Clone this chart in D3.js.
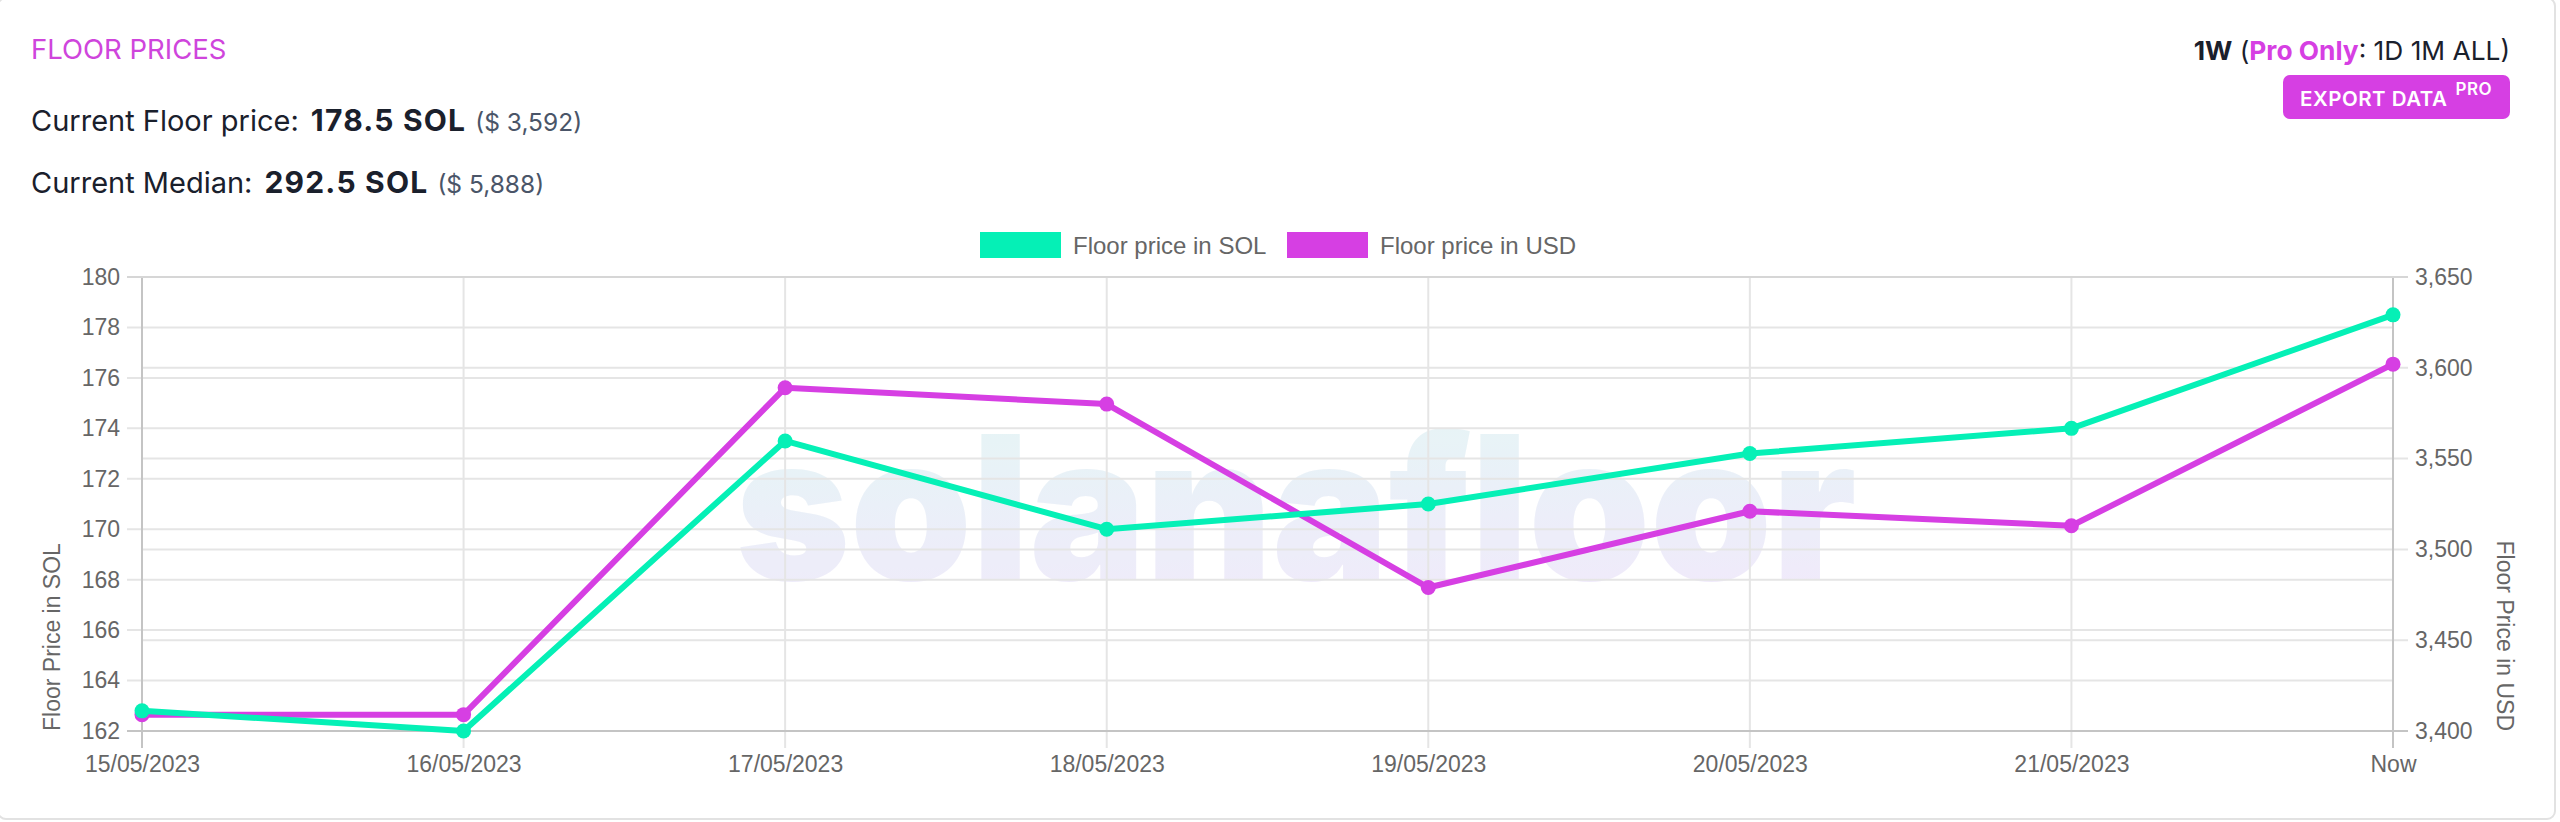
<!DOCTYPE html>
<html>
<head>
<meta charset="utf-8">
<script src="https://cdn.jsdelivr.net/npm/d3@7"></script>
<style>
  html, body { margin: 0; padding: 0; background: #ffffff; }
  svg { display: block; }
</style>
</head>
<body>
<svg id="chart" width="2560" height="822"></svg>
<script>
// ---------- data ----------
const categories = ["15/05/2023", "16/05/2023", "17/05/2023", "18/05/2023", "19/05/2023", "20/05/2023", "21/05/2023", "Now"];
const floorSol = [162.8, 162.0, 173.5, 170.0, 171.0, 173.0, 174.0, 178.5];
const floorUsd = [3409, 3409, 3589, 3580, 3479, 3521, 3513, 3602];
const solTicks = [162, 164, 166, 168, 170, 172, 174, 176, 178, 180];
const usdTicks = [3400, 3450, 3500, 3550, 3600, 3650];
const seriesNames = ["Floor price in SOL", "Floor price in USD"];

// ---------- styles ----------
const GREEN = "#05f0b6";
const MAGENTA = "#d63fe3";
const DARK = "#1a202c";
const TICK = "#666666";
const GRID = "#e5e5e5";
const BORDER = "#c4c4c4";
const chartFont = "'Liberation Sans', Arial, Helvetica, sans-serif";
const uiFont = "Inter, 'Noto Sans', sans-serif";

const svg = d3.select("#chart");

// card border
svg.append("rect").attr("x", -2).attr("y", -2).attr("width", 2557).attr("height", 821)
  .attr("rx", 8).attr("fill", "#fff").attr("stroke", "#e2e2e2").attr("stroke-width", 2);

// ---------- header ----------
svg.append("text").attr("x", 31).attr("y", 59)
  .attr("font-family", uiFont).attr("font-size", 27.5).attr("fill", "#cf45dc")
  .text("FLOOR PRICES");

function statLine(y, label, value, usd) {
  const t = svg.append("text").attr("x", 31).attr("y", y).attr("font-family", uiFont).attr("fill", DARK);
  t.append("tspan").attr("font-size", 29).text(label);
  t.append("tspan").attr("dx", 12).attr("font-size", 30).attr("font-weight", 700).attr("letter-spacing", 1.2).text(value);
  t.append("tspan").attr("dx", 9).attr("font-size", 24.5).attr("fill", "#4a5568").text(usd);
}
statLine(131, "Current Floor price:", "178.5 SOL", "($ 3,592)");
statLine(193, "Current Median:", "292.5 SOL", "($ 5,888)");

const rt = svg.append("text").attr("x", 2510).attr("y", 60).attr("text-anchor", "end")
  .attr("font-family", uiFont).attr("font-size", 26.3).attr("fill", DARK);
rt.append("tspan").attr("font-weight", 700).text("1W");
rt.append("tspan").text(" (");
rt.append("tspan").attr("font-weight", 700).attr("fill", MAGENTA).text("Pro Only");
rt.append("tspan").text(": 1D 1M ALL)");

svg.append("rect").attr("x", 2283).attr("y", 75).attr("width", 227).attr("height", 44)
  .attr("rx", 7).attr("fill", MAGENTA);
const bt = svg.append("text").attr("x", 2300).attr("y", 106)
  .attr("font-family", uiFont).attr("font-size", 20.5).attr("font-weight", 600).attr("fill", "#fff")
  .attr("letter-spacing", 0.5);
bt.append("tspan").text("EXPORT DATA");
bt.append("tspan").attr("font-size", 17).attr("dy", -11).attr("dx", 8).text("PRO");

// ---------- scales ----------
const plotL = 142, plotR = 2393, plotT = 277, plotB = 731;
const x = d3.scalePoint().domain(categories).range([plotL, plotR]);
const yL = d3.scaleLinear().domain([162, 180]).range([plotB, plotT]);
const yR = d3.scaleLinear().domain([3400, 3650]).range([plotB, plotT]);

// ---------- watermark ----------
const defs = svg.append("defs");
const grad = defs.append("linearGradient").attr("id", "wm").attr("x1", 0).attr("y1", 0).attr("x2", 0.15).attr("y2", 1);
grad.append("stop").attr("offset", "0%").attr("stop-color", "#dff6f3");
grad.append("stop").attr("offset", "100%").attr("stop-color", "#efe6fb");
svg.append("text").attr("x", 1296).attr("y", 580).attr("text-anchor", "middle")
  .attr("font-family", "Inter, Lato, sans-serif").attr("font-weight", 900).attr("font-size", 200)
  .attr("textLength", 1121).attr("lengthAdjust", "spacingAndGlyphs")
  .attr("fill", "url(#wm)").attr("opacity", 0.85)
  .text("solanafloor");

// ---------- grid ----------
const grid = svg.append("g");
grid.selectAll("line.gl").data(solTicks).join("line")
  .attr("x1", plotL - 15).attr("x2", plotR)
  .attr("y1", d => yL(d)).attr("y2", d => yL(d))
  .attr("stroke", GRID).attr("stroke-width", 2);
grid.selectAll("line.gr").data(usdTicks).join("line")
  .attr("x1", plotL).attr("x2", plotR + 15)
  .attr("y1", d => yR(d)).attr("y2", d => yR(d))
  .attr("stroke", GRID).attr("stroke-width", 2);
grid.selectAll("line.gx").data(categories).join("line")
  .attr("x1", d => x(d)).attr("x2", d => x(d))
  .attr("y1", plotT).attr("y2", plotB + 17)
  .attr("stroke", GRID).attr("stroke-width", 2);
// borders
grid.append("line").attr("x1", plotL).attr("x2", plotL).attr("y1", plotT).attr("y2", plotB + 17).attr("stroke", BORDER).attr("stroke-width", 2);
grid.append("line").attr("x1", plotR).attr("x2", plotR).attr("y1", plotT).attr("y2", plotB + 17).attr("stroke", BORDER).attr("stroke-width", 2);
grid.append("line").attr("x1", plotL - 15).attr("x2", plotR + 15).attr("y1", plotB).attr("y2", plotB).attr("stroke", BORDER).attr("stroke-width", 2);
grid.append("line").attr("x1", plotL - 15).attr("x2", plotR + 15).attr("y1", plotT).attr("y2", plotT).attr("stroke", "#d6d6d6").attr("stroke-width", 2);

// ---------- axes ----------
function styleAxis(g) {
  g.select(".domain").remove();
  g.selectAll(".tick line").remove();
  g.selectAll("text").attr("font-family", chartFont).attr("font-size", 23).attr("fill", TICK);
}
svg.append("g").attr("transform", `translate(${plotL},0)`)
  .call(d3.axisLeft(yL).tickValues(solTicks).tickSize(16).tickPadding(6).tickFormat(d3.format("d")))
  .call(styleAxis);
svg.append("g").attr("transform", `translate(${plotR},0)`)
  .call(d3.axisRight(yR).tickValues(usdTicks).tickSize(16).tickPadding(6).tickFormat(d3.format(",")))
  .call(styleAxis);
svg.append("g").attr("transform", `translate(0,${plotB})`)
  .call(d3.axisBottom(x).tickSize(17).tickPadding(8))
  .call(styleAxis);

// axis titles
svg.append("text").attr("transform", `translate(60,${plotB}) rotate(-90)`)
  .attr("font-family", chartFont).attr("font-size", 23).attr("fill", TICK)
  .text("Floor Price in SOL");
svg.append("text").attr("transform", `translate(2497,${plotB}) rotate(90)`)
  .attr("text-anchor", "end")
  .attr("font-family", chartFont).attr("font-size", 23).attr("fill", TICK)
  .text("Floor Price in USD");

// ---------- legend ----------
const legend = svg.append("g");
const legItems = [
  { name: seriesNames[0], color: GREEN, x: 980 },
  { name: seriesNames[1], color: MAGENTA, x: 1287 }
];
legItems.forEach(it => {
  legend.append("rect").attr("x", it.x).attr("y", 232).attr("width", 81).attr("height", 26).attr("fill", it.color);
  legend.append("text").attr("x", it.x + 93).attr("y", 254)
    .attr("font-family", chartFont).attr("font-size", 24).attr("fill", TICK).text(it.name);
});

// ---------- lines ----------
function drawSeries(values, yScale, color) {
  const pts = categories.map((c, i) => [x(c), yScale(values[i])]);
  svg.append("path").attr("d", d3.line()(pts))
    .attr("fill", "none").attr("stroke", color).attr("stroke-width", 6)
    .attr("stroke-linejoin", "round").attr("stroke-linecap", "round");
  svg.append("g").selectAll("circle").data(pts).join("circle")
    .attr("cx", d => d[0]).attr("cy", d => d[1]).attr("r", 7.5).attr("fill", color);
}
drawSeries(floorUsd, yR, MAGENTA);
drawSeries(floorSol, yL, GREEN);
</script>
</body>
</html>
